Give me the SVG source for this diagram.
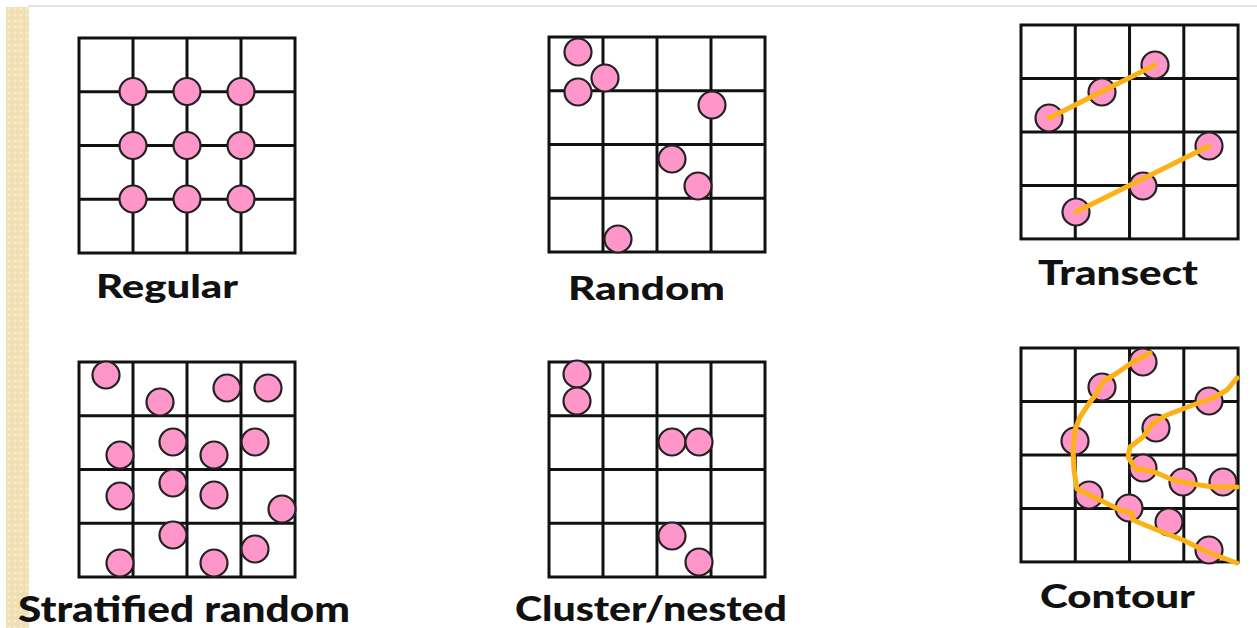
<svg xmlns="http://www.w3.org/2000/svg" xmlns:xlink="http://www.w3.org/1999/xlink" width="1257" height="628" viewBox="0 0 1257 628">
<style>
.grid line, .grid rect{stroke:#111;stroke-width:3;fill:none}
.pt{fill:#FF96C9;stroke:#222;stroke-width:2.2}
.tr{stroke:#FBB117;stroke-width:5;fill:none;stroke-linecap:round;stroke-linejoin:round}
.lbl{font-family:Lato,"Liberation Sans",sans-serif;font-weight:900;fill:#111}
</style>
<defs>
<pattern id="chk" width="6" height="6" patternUnits="userSpaceOnUse">
<rect width="6" height="6" fill="#EFDFB2"/>
<circle cx="3" cy="3" r="1.8" fill="#F6EACB"/>
</pattern>
<g id="grid" class="grid">
<line x1="54" y1="0" x2="54" y2="215"/>
<line x1="108" y1="0" x2="108" y2="215"/>
<line x1="162" y1="0" x2="162" y2="215"/>
<line x1="0" y1="53.75" x2="216" y2="53.75"/>
<line x1="0" y1="107.5" x2="216" y2="107.5"/>
<line x1="0" y1="161.25" x2="216" y2="161.25"/>
<rect x="0" y="0" width="216" height="215"/>
</g>
</defs>
<rect width="1257" height="628" fill="#fff"/>
<line x1="28" y1="6" x2="1257" y2="6" stroke="#e2e2e2" stroke-width="2"/>
<rect x="6" y="7" width="23" height="621" fill="url(#chk)"/>

<g id="regular">
<use xlink:href="#grid" x="79" y="38"/>
<circle class="pt" cx="133" cy="91.5" r="13.5"/>
<circle class="pt" cx="187" cy="91.5" r="13.5"/>
<circle class="pt" cx="241" cy="91.5" r="13.5"/>
<circle class="pt" cx="133" cy="145.5" r="13.5"/>
<circle class="pt" cx="187" cy="145.5" r="13.5"/>
<circle class="pt" cx="241" cy="145.5" r="13.5"/>
<circle class="pt" cx="133" cy="199" r="13.5"/>
<circle class="pt" cx="187" cy="199" r="13.5"/>
<circle class="pt" cx="241" cy="199" r="13.5"/>
<text class="lbl" x="96" y="298" font-size="33" textLength="142" lengthAdjust="spacingAndGlyphs">Regular</text>
</g>

<g id="random">
<use xlink:href="#grid" x="549" y="37"/>
<circle class="pt" cx="578" cy="52" r="13.5"/>
<circle class="pt" cx="605" cy="78" r="13.5"/>
<circle class="pt" cx="578" cy="92" r="13.5"/>
<circle class="pt" cx="712" cy="105" r="13.5"/>
<circle class="pt" cx="672" cy="159" r="13.5"/>
<circle class="pt" cx="698" cy="186" r="13.5"/>
<circle class="pt" cx="618" cy="239" r="13.5"/>
<text class="lbl" x="568" y="300" font-size="33" textLength="157" lengthAdjust="spacingAndGlyphs">Random</text>
</g>

<g id="transect">
<use xlink:href="#grid" x="1021" y="25" transform="translate(1021 25) scale(1.005 0.995) translate(-1021 -25)"/>
<circle class="pt" cx="1155" cy="65" r="13.5"/>
<circle class="pt" cx="1102" cy="92" r="13.5"/>
<circle class="pt" cx="1049" cy="118" r="13.5"/>
<circle class="pt" cx="1209" cy="146" r="13.5"/>
<circle class="pt" cx="1143" cy="186" r="13.5"/>
<circle class="pt" cx="1076" cy="212" r="13.5"/>
<line class="tr" x1="1049" y1="118" x2="1155" y2="65"/>
<line class="tr" x1="1076" y1="212" x2="1209" y2="146"/>
<text class="lbl" x="1038" y="285" font-size="35" textLength="160" lengthAdjust="spacingAndGlyphs">Transect</text>
</g>

<g id="stratified">
<use xlink:href="#grid" x="79" y="362"/>
<circle class="pt" cx="106" cy="375" r="13.5"/>
<circle class="pt" cx="160" cy="402" r="13.5"/>
<circle class="pt" cx="227" cy="388" r="13.5"/>
<circle class="pt" cx="268" cy="388" r="13.5"/>
<circle class="pt" cx="120" cy="455" r="13.5"/>
<circle class="pt" cx="173" cy="442" r="13.5"/>
<circle class="pt" cx="214" cy="455" r="13.5"/>
<circle class="pt" cx="255" cy="442" r="13.5"/>
<circle class="pt" cx="120" cy="496" r="13.5"/>
<circle class="pt" cx="173" cy="483" r="13.5"/>
<circle class="pt" cx="214" cy="495" r="13.5"/>
<circle class="pt" cx="282" cy="509" r="13.5"/>
<circle class="pt" cx="173" cy="535" r="13.5"/>
<circle class="pt" cx="120" cy="563" r="13.5"/>
<circle class="pt" cx="214" cy="563" r="13.5"/>
<circle class="pt" cx="255" cy="549" r="13.5"/>
<text class="lbl" x="18" y="622" font-size="36" textLength="332" lengthAdjust="spacingAndGlyphs">Stratified random</text>
</g>

<g id="cluster">
<use xlink:href="#grid" x="549" y="362"/>
<circle class="pt" cx="577" cy="374" r="13.5"/>
<circle class="pt" cx="577" cy="401" r="13.5"/>
<circle class="pt" cx="672" cy="442" r="13.5"/>
<circle class="pt" cx="699" cy="442" r="13.5"/>
<circle class="pt" cx="672" cy="536" r="13.5"/>
<circle class="pt" cx="699" cy="562" r="13.5"/>
<text class="lbl" x="515" y="621" font-size="35" textLength="272" lengthAdjust="spacingAndGlyphs">Cluster/nested</text>
</g>

<g id="contour">
<use xlink:href="#grid" x="1021" y="348" transform="translate(1021 348) scale(1.005 0.995) translate(-1021 -348)"/>
<circle class="pt" cx="1143" cy="362" r="13.5"/>
<circle class="pt" cx="1102" cy="387" r="13.5"/>
<circle class="pt" cx="1209" cy="401" r="13.5"/>
<circle class="pt" cx="1156" cy="428" r="13.5"/>
<circle class="pt" cx="1075" cy="441" r="13.5"/>
<circle class="pt" cx="1143" cy="468" r="13.5"/>
<circle class="pt" cx="1183" cy="482" r="13.5"/>
<circle class="pt" cx="1223" cy="482" r="13.5"/>
<circle class="pt" cx="1089" cy="495" r="13.5"/>
<circle class="pt" cx="1129" cy="508" r="13.5"/>
<circle class="pt" cx="1169" cy="522" r="13.5"/>
<circle class="pt" cx="1209" cy="550" r="13.5"/>
<polyline class="tr" stroke-width="4.5" points="1150,353 1133,362 1117,373 1104,381 1099,388 1097,393 1090,402 1080,417 1075,430 1073,450 1074,470 1077,489 1100,500 1120,510 1132,513 1133,520 1157,530 1183,540 1207,552 1237,563"/>
<polyline class="tr" stroke-width="4.5" points="1237,378 1227,390 1213,398 1193,405 1167,415 1153,423 1143,437 1130,447 1128,457 1132,463 1137,470 1143,469 1157,473 1173,480 1193,484 1213,487 1237,487"/>
<text class="lbl" x="1040" y="608" font-size="33" textLength="155" lengthAdjust="spacingAndGlyphs">Contour</text>
</g>
</svg>
